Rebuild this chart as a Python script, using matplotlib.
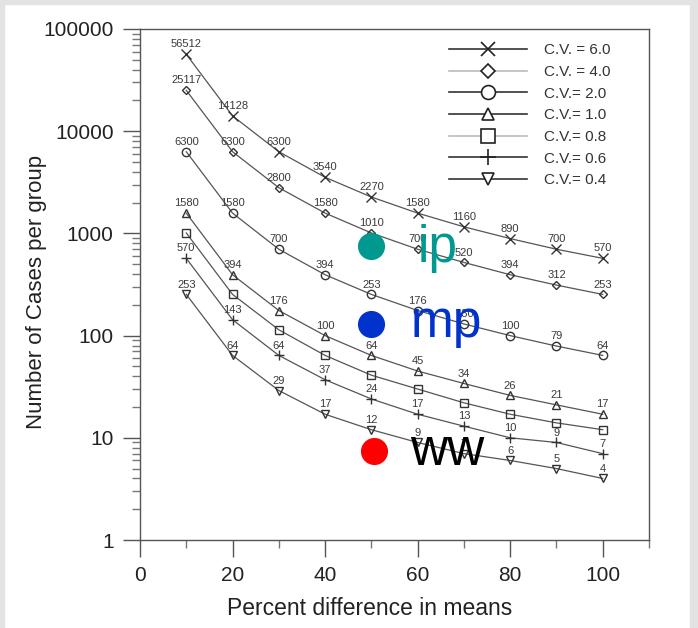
import matplotlib
matplotlib.use('Agg')
import matplotlib.pyplot as plt
from matplotlib.lines import Line2D
from matplotlib.patches import Rectangle
from matplotlib.ticker import FixedLocator, FuncFormatter, NullFormatter

plt.rcParams['font.family'] = ['Liberation Sans', 'DejaVu Sans']

# percent difference in means
diff = [10, 20, 30, 40, 50, 60, 70, 80, 90, 100]

# cases per group for each coefficient of variation
cv60 = [56512, 14128, 6300, 3540, 2270, 1580, 1160, 890, 700, 570]
cv40 = [25117, 6300, 2800, 1580, 1010, 700, 520, 394, 312, 253]
cv20 = [6300, 1580, 700, 394, 253, 176, 130, 100, 79, 64]
cv10 = [1580, 394, 176, 100, 64, 45, 34, 26, 21, 17]
cv08 = [1010, 253, 114, 64, 41, 30, 22, 17, 14, 12]
cv06 = [570, 143, 64, 37, 24, 17, 13, 10, 9, 7]
cv04 = [253, 64, 29, 17, 12, 9, 7, 6, 5, 4]

cv_names = ['C.V. = 6.0', 'C.V. = 4.0', 'C.V.= 2.0', 'C.V.= 1.0',
            'C.V.= 0.8', 'C.V.= 0.6', 'C.V.= 0.4']
series = [cv60, cv40, cv20, cv10, cv08, cv06, cv04]
show_numbers = [True, True, True, True, False, True, True]

# overlay dots and tags
tags = ['ip', 'mp', 'ww']
dot_x = [50, 50, 50.6]
dot_y = [750, 129, 7.5]
tag_x = [60.0, 58.4, 58.4]
tag_y = [525, 97, 5.4]
tag_colors = ['#00998f', '#0033cc', '#000000']
dot_colors = ['#00998f', '#0033cc', '#ff0000']

# styles
markers = ['x', 'D', 'o', '^', 's', '+', 'v']
msizes = [6.5, 4.5, 6, 6, 6, 7, 6]
leg_msizes = [10, 7, 10, 8, 10, 12, 9]
leg_colors = ['#333333', '#bbbbbb', '#333333', '#333333', '#bbbbbb', '#333333', '#333333']
line_col = '#555555'

fig = plt.figure(figsize=(6.98, 6.28), dpi=100)
ax = fig.add_axes([140 / 698, 1 - 540 / 628, (649 - 140) / 698, (540 - 29) / 628])

for vals, mk, ms, lab in zip(series, markers, msizes, show_numbers):
    ax.plot(diff, vals, color=line_col, lw=0.9, marker=mk, ms=ms,
            mfc='none', mec='#333333', mew=1.0)
    if lab:
        for x, v in zip(diff, vals):
            ax.annotate(str(v), (x, v), xytext=(0, 3.5), textcoords='offset points',
                        ha='center', va='bottom', fontsize=8, color='#3a3a3a')

ax.set_yscale('log')
ax.set_ylim(1, 100000)
ax.set_xlim(0, 110)

ax.xaxis.set_major_locator(FixedLocator([0, 20, 40, 60, 80, 100]))
ax.xaxis.set_minor_locator(FixedLocator([10, 30, 50, 70, 90, 110]))
ax.yaxis.set_major_locator(FixedLocator([1, 10, 100, 1000, 10000, 100000]))
ax.yaxis.set_major_formatter(FuncFormatter(lambda v, p: '%d' % v))
minors = [m * 10 ** e for e in range(0, 5) for m in range(2, 10)]
ax.yaxis.set_minor_locator(FixedLocator(minors))
ax.yaxis.set_minor_formatter(NullFormatter())

ax.tick_params(which='major', length=12, width=1, color='#555555', labelsize=15, pad=7,
               labelcolor='#222222')
ax.tick_params(which='minor', length=6, width=1, color='#777777')
for s in ax.spines.values():
    s.set_color('#555555')
    s.set_linewidth(1)

ax.set_xlabel('Percent difference in means', fontsize=16.5, color='#222222')
ax.set_ylabel('Number of Cases per group', fontsize=16, color='#222222')
ax.xaxis.set_label_coords(0.452, -0.112)
ax.yaxis.set_label_coords(-0.183, 0.485)

handles = [Line2D([], [], color=c, lw=1.2, marker=m, ms=s, mfc='white', mec='#222222', mew=1.2)
           for c, m, s in zip(leg_colors, markers, leg_msizes)]
ax.legend(handles, cv_names, loc='upper left', bbox_to_anchor=(0.608, 0.972),
          frameon=False, fontsize=11, handlelength=5.1, handletextpad=1.1,
          labelspacing=0.5, borderpad=0, borderaxespad=0, labelcolor='#333333')

# overlay markers and labels
for x, y, c in zip(dot_x, dot_y, dot_colors):
    ax.plot(x, y, 'o', color=c, ms=18.5, zorder=5)
for x, y, t, c in zip(tag_x, tag_y, tags, tag_colors):
    ax.text(x, y, t, color=c, fontsize=37, ha='left', va='baseline', zorder=6)

# light grey picture border
fig.patches.append(Rectangle((0, 1 - 4 / 628), 1, 4 / 628, transform=fig.transFigure,
                             color='#e3e3e3', zorder=0))
fig.patches.append(Rectangle((0, 0), 4 / 698, 1, transform=fig.transFigure,
                             color='#e3e3e3', zorder=0))
fig.patches.append(Rectangle((1 - 8 / 698, 0), 8 / 698, 1, transform=fig.transFigure,
                             color='#e3e3e3', zorder=0))

fig.savefig('out.png', dpi=100)
